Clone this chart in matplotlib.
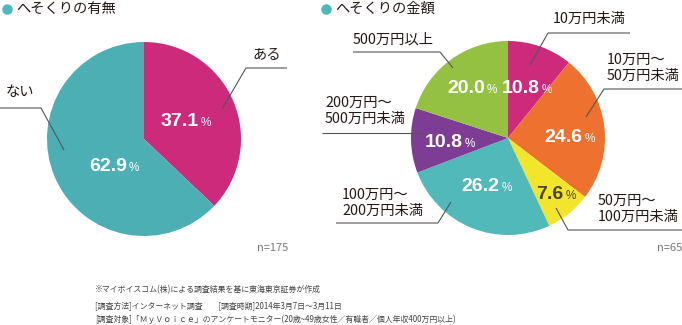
import matplotlib as mpl
import numpy as np
from matplotlib import pyplot as plt

mpl.rcParams['font.family'] = ['Noto Sans CJK JP', 'DejaVu Sans']

W, H = 682, 325

# へそくりの有無 (n=175)
have_labels = ['ある', 'ない']
have_values = [37.1, 62.9]
have_colors = ['#CD2A7C', '#4BAFB3']

# へそくりの金額 (n=65)
amount_labels = ['10万円未満', '10万円～\n50万円未満', '50万円～\n100万円未満',
                 '100万円～\n200万円未満', '200万円～\n500万円未満', '500万円以上']
amount_values = [10.8, 24.6, 7.6, 26.2, 10.8, 20.0]
amount_colors = ['#CD2A7C', '#EE7130', '#F2E52B', '#52B9BA', '#7D3D95', '#95C143']
amount_pct_colors = ['white', 'white', '#4a4520', 'white', 'white', 'white']

TEXT = '#231815'
LINE = '#555555'
DOT = '#4BB8BA'


def Y(y):
    # pixel rows are counted from the top
    return H - y


fig = plt.figure(figsize=(W / 100, H / 100), dpi=100)
ax = fig.add_axes([0, 0, 1, 1])

left_c = (144, 139)
right_c = (508, 138)
rad = 97

ax.pie(have_values, colors=have_colors, startangle=90, counterclock=False,
       center=(left_c[0], Y(left_c[1])), radius=rad, wedgeprops=dict(linewidth=0))
ax.pie(amount_values, colors=amount_colors, startangle=90, counterclock=False,
       center=(right_c[0], Y(right_c[1])), radius=rad, wedgeprops=dict(linewidth=0))

ax.set_xlim(0, W)
ax.set_ylim(0, H)
ax.set_aspect('equal')
ax.axis('off')

renderer = fig.canvas.get_renderer()


def pct_label(x, y, value, color):
    # big bold number followed by a small % sign, centred on (x, y)
    num = ax.text(0, 0, f'{value:.1f}', fontsize=14, fontweight='bold',
                  family='Liberation Sans', color=color, ha='left', va='baseline')
    pc = ax.text(0, 0, '%', fontsize=8.5, family='Liberation Sans',
                 color=color, ha='left', va='baseline')
    wn = num.get_window_extent(renderer).width
    wp = pc.get_window_extent(renderer).width
    x0 = x - (wn + 2 + wp) / 2
    num.set_position((x0, Y(y + 6)))
    pc.set_position((x0 + wn + 2, Y(y + 6)))


have_pct_pos = [(186, 120), (114, 165)]
for (x, y), v in zip(have_pct_pos, have_values):
    pct_label(x, y, v, 'white')

amount_pct_pos = [(527, 87), (570, 136), (556, 193), (487, 185), (450, 141), (472, 87)]
for (x, y), v, c in zip(amount_pct_pos, amount_values, amount_pct_colors):
    pct_label(x, y, v, c)

# leader lines
leaders = [
    [(222, 109), (246, 68), (287, 68)],
    [(64, 150), (41, 108), (0, 108)],
    [(530, 65), (548, 33), (630, 33)],
    [(586, 117), (604, 89), (682, 89)],
    [(556, 208), (568, 230), (682, 230)],
    [(451, 202), (438, 223), (336, 223)],
    [(424, 133), (322, 133)],
    [(453, 68), (440, 52), (353, 52)],
]
for path in leaders:
    xs = [p[0] for p in path]
    ys = [Y(p[1]) for p in path]
    ax.plot(xs, ys, color=LINE, lw=0.8, solid_capstyle='butt')

# category labels
ax.text(267, Y(55), have_labels[0], fontsize=10.3, color=TEXT, ha='center', va='center')
ax.text(20, Y(92), have_labels[1], fontsize=10.3, color=TEXT, ha='center', va='center')

amount_label_pos = [
    (553, 19, 'left'),
    (607, 68, 'left'),
    (598, 209, 'left'),
    (342, 203, 'left'),
    (325, 111, 'left'),
    (353, 40, 'left'),
]
for (x, y, ha), lab in zip(amount_label_pos, amount_labels):
    ax.text(x, Y(y), lab, fontsize=10.3, color=TEXT, ha=ha, va='center', linespacing=1.15)

# section titles
for dx, title in [(7, 'へそくりの有無'), (326, 'へそくりの金額')]:
    ax.plot([dx], [Y(9)], 'o', markersize=6.5, color=DOT)
    ax.text(dx + 9, Y(9), title, fontsize=10.3, color=TEXT, ha='left', va='center')

ax.text(288, Y(248), 'n=175', fontsize=8, color='#777777', ha='right', va='center')
ax.text(682, Y(248), 'n=65', fontsize=8, color='#777777', ha='right', va='center')

notes = [
    (290, '※マイボイスコム(株)による調査結果を基に東海東京証券が作成'),
    (306, '[調査方法]インターネット調査　　[調査時期]2014年3月7日～3月11日'),
    (319, '[調査対象]「ＭｙＶｏｉｃｅ」のアンケートモニター(20歳~49歳女性／有職者／個人年収400万円以上)'),
]
for y, s in notes:
    ax.text(95, Y(y), s, fontsize=5.7, color='#444444', ha='left', va='center')

fig.savefig('out.png', dpi=100)
